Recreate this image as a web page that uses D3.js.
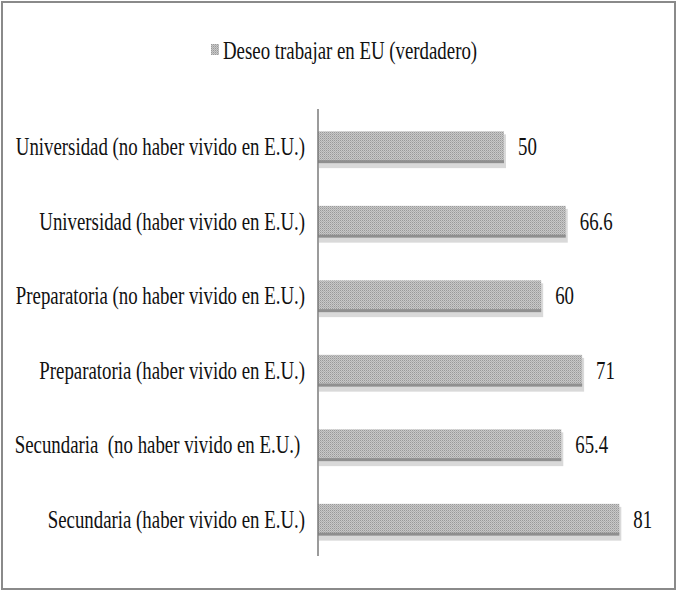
<!DOCTYPE html>
<html>
<head>
<meta charset="utf-8">
<script src="https://cdn.jsdelivr.net/npm/d3@7"></script>
<style>
  body { margin: 0; background: #fff; }
  text { font-family: "Liberation Serif", "Times New Roman", serif; fill: #111; }
</style>
</head>
<body>
<svg id="chart" width="678" height="593"></svg>
<script>
var categories = [
    'Universidad (no haber vivido en E.U.)',
    'Universidad (haber vivido en E.U.)',
    'Preparatoria (no haber vivido en E.U.)',
    'Preparatoria (haber vivido en E.U.)',
    'Secundaria  (no haber vivido en E.U.) ',
    'Secundaria (haber vivido en E.U.)'
];
var valueLabels = ['50', '66.6', '60', '71', '65.4', '81'];
var values = [50, 66.6, 60, 71, 65.4, 81];
var seriesName = 'Deseo trabajar en EU (verdadero)';

// the original text is tall and narrow
var fontSize = '26px';
var squeeze = 0.725;

var svg = d3.select('#chart');

// dithered grey fill like the original
var defs = svg.append('defs');
var pat = defs.append('pattern')
    .attr('id', 'dots')
    .attr('width', 2).attr('height', 2)
    .attr('patternUnits', 'userSpaceOnUse');
pat.append('rect').attr('width', 2).attr('height', 2).attr('fill', '#c8c8c8');
pat.append('rect').attr('width', 1).attr('height', 1).attr('fill', '#999');
pat.append('rect').attr('x', 1).attr('y', 1).attr('width', 1).attr('height', 1).attr('fill', '#b0b0b0');

// outer frame
svg.append('rect')
    .attr('x', 2).attr('y', 2)
    .attr('width', 673).attr('height', 587)
    .attr('fill', 'none')
    .attr('stroke', '#8a8a8a')
    .attr('stroke-width', 2);

var x0 = 318;
var x = d3.scaleLinear().domain([0, 50]).range([x0, 504]);
var y = d3.scaleBand().domain(categories).range([109, 556])
    .paddingInner(0.6).paddingOuter(0.3);

var bars = svg.append('g').selectAll('g')
    .data(categories)
    .join('g');

// soft shadow
bars.append('rect')
    .attr('x', x0 + 1)
    .attr('y', function(d) { return y(d) + 3; })
    .attr('width', function(d, i) { return x(values[i]) - x0 + 1; })
    .attr('height', y.bandwidth() + 4)
    .attr('fill', '#d9d9d9');

bars.append('rect')
    .attr('x', x0)
    .attr('y', function(d) { return y(d); })
    .attr('width', function(d, i) { return x(values[i]) - x0; })
    .attr('height', y.bandwidth())
    .attr('fill', 'url(#dots)');

// darker bottom edge
bars.append('rect')
    .attr('x', x0)
    .attr('y', function(d) { return y(d) + y.bandwidth() - 1; })
    .attr('width', function(d, i) { return x(values[i]) - x0; })
    .attr('height', 3)
    .attr('fill', '#8f8f8f');

// value labels
bars.append('text')
    .attr('transform', function(d, i) {
        return 'translate(' + (x(values[i]) + 14) + ',' + (y(d) + y.bandwidth() / 2) + ') scale(' + squeeze + ',1)';
    })
    .attr('dy', '0.35em')
    .style('font-size', fontSize)
    .text(function(d, i) { return valueLabels[i]; });

// category axis
var yAxis = d3.axisLeft(y).tickSize(0).tickPadding(13);
var ax = svg.append('g')
    .attr('transform', 'translate(' + x0 + ',0)')
    .call(yAxis);
ax.select('.domain')
    .attr('stroke', '#7a7a7a')
    .attr('stroke-width', 1.5)
    .attr('d', 'M0,109V556');
ax.selectAll('text')
    .attr('x', -13 / squeeze)
    .attr('dy', '0.35em')
    .attr('transform', 'scale(' + squeeze + ',1)')
    .style('font-family', '"Liberation Serif", "Times New Roman", serif')
    .style('font-size', fontSize)
    .style('white-space', 'pre')
    .attr('fill', '#111');

// legend
var lg = svg.append('g').attr('transform', 'translate(211,44)');
lg.append('rect')
    .attr('width', 8).attr('height', 11)
    .attr('fill', 'url(#dots)');
lg.append('text')
    .attr('transform', 'translate(12,6) scale(' + squeeze + ',1)')
    .attr('dy', '0.35em')
    .style('font-size', fontSize)
    .text(seriesName);
</script>
</body>
</html>
